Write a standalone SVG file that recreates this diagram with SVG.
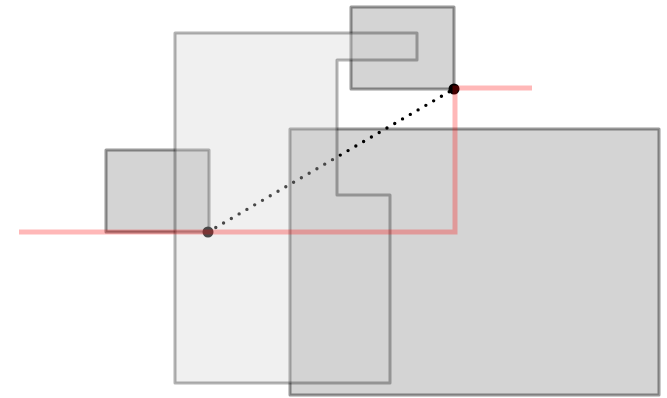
<svg xmlns="http://www.w3.org/2000/svg" width="667" height="398" viewBox="0 0 667 398">
<style>
.box{fill:#d4d4d4;stroke:rgba(0,0,0,0.4);stroke-width:3;stroke-linejoin:round}
.region{fill:rgba(212,212,212,0.34);stroke:rgba(0,0,0,0.3);stroke-width:3;stroke-linejoin:round}
.route{fill:none;stroke:rgba(255,0,0,0.28);stroke-width:5}
.link{fill:none;stroke:#000;stroke-width:3.4;stroke-dasharray:0 9;stroke-linecap:round}
.pt{fill:#000}
</style>
<rect width="667" height="398" fill="#fff"/>
<g id="big"><rect class="box" x="290" y="129" width="369" height="266"/></g>
<g id="top"><rect class="box" x="351" y="7" width="103" height="82"/></g>
<g id="left"><rect class="box" x="106" y="150" width="103" height="82"/></g>
<g id="connectors">
<line class="link" x1="208" y1="232" x2="454" y2="89"/>
<circle class="pt" cx="208" cy="232" r="5.5"/>
<circle class="pt" cx="454" cy="89" r="5.5"/>
</g>
<g id="region"><path class="region" d="M175 33H417V60H337V195H390V383H175Z"/></g>
<g id="route"><path class="route" d="M19 232H455V88H532"/></g>
</svg>
